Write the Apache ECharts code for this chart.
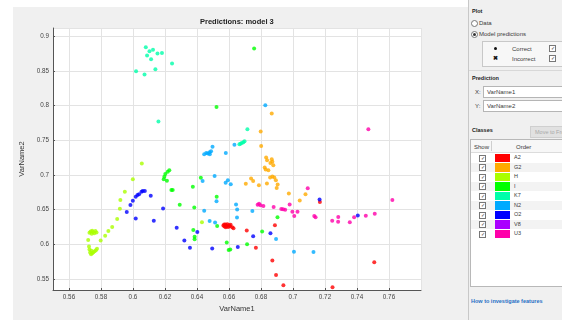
<!DOCTYPE html>
<html>
<head>
<meta charset="utf-8">
<script src="https://cdn.jsdelivr.net/npm/echarts@6/dist/echarts.min.js"></script>
<style>
  html, body { margin: 0; padding: 0; width: 562px; height: 320px; overflow: hidden; background: #fff;
    font-family: "Liberation Sans", Arial, sans-serif; }
  #fig { position: absolute; left: 13px; top: 7px; width: 455px; height: 313px; background: #f0f0f0; }
  #chart { position: absolute; left: 0; top: 0; width: 468px; height: 320px; }
  #panel { position: absolute; left: 468px; top: 0; width: 94px; height: 320px; background: #f0f0f0;
    border-left: 1px solid #c8c8c8; color: #3a3a3a; font-size: 6px; overflow: hidden; }
  .a { position: absolute; white-space: nowrap; line-height: 1; }
  .h { font-weight: bold; font-size: 5.5px; color: #222; }
  .radio { width: 5px; height: 5px; border: 1px solid #777; border-radius: 50%; background: #fff; }
  .radio.on::after { content: ''; position: absolute; left: 1px; top: 1px; width: 3px; height: 3px; border-radius: 50%; background: #333; }
  .chk { width: 5px; height: 5px; border: 1px solid #777; background: #fff; font-size: 5px; line-height: 5px; text-align: center; color: #333; }
  .drop { height: 10px; border: 1px solid #b5b5b5; background: #fff; }
  .row { position: absolute; left: 0; width: 96px; height: 9.5px; }
</style>
</head>
<body>
<div id="fig"></div>
<div id="chart"></div>
<div id="panel"></div>
<script>
// class names and colours (hsv(9) order)
const classNames = ['A2', 'G2', 'H', 'I', 'K7', 'N2', 'O2', 'V8', 'U3'];
const classColors = ['#ff0000', '#ffaa00', '#aaff00', '#00ff00', '#00ffaa', '#00aaff', '#0000ff', '#aa00ff', '#ff00aa'];

const xTicksRange = [0.55, 0.78];
const yTicksRange = [0.534, 0.912];

// VarName1 / VarName2 per class
const ptsA2 = [
  [0.6565, 0.6270], [0.6572, 0.6255], [0.6578, 0.6285], [0.6585, 0.6265], [0.6590, 0.6290],
  [0.6595, 0.6250], [0.6600, 0.6275], [0.6605, 0.6260], [0.6580, 0.6245], [0.6610, 0.6280],
  [0.6620, 0.6245], [0.6628, 0.6232], [0.6570, 0.6285],
  [0.6711, 0.6200], [0.6887, 0.6274], [0.6768, 0.5948], [0.6871, 0.5765], [0.6894, 0.5556],
  [0.6940, 0.5408], [0.7168, 0.6608], [0.7508, 0.5739], [0.7247, 0.5379]
];
const ptsG2 = [
  [0.6867, 0.7886], [0.6798, 0.7628], [0.6801, 0.7419], [0.6832, 0.7252], [0.6838, 0.7213],
  [0.6867, 0.7228], [0.6871, 0.7189], [0.6877, 0.7141], [0.6823, 0.7108], [0.6829, 0.7079],
  [0.6846, 0.7069], [0.6859, 0.7174], [0.6857, 0.6964], [0.6871, 0.6978], [0.6883, 0.6964],
  [0.6893, 0.6925], [0.6904, 0.6863], [0.6898, 0.6810], [0.6705, 0.6872], [0.6738, 0.6950],
  [0.6751, 0.6911], [0.6787, 0.6853], [0.6837, 0.6878], [0.6974, 0.6731], [0.7042, 0.6633],
  [0.7078, 0.6723]
];
const ptsH = [
  [0.6055, 0.7166], [0.5999, 0.6939], [0.5949, 0.6756], [0.5921, 0.6637], [0.5918, 0.6514],
  [0.5901, 0.6363], [0.5870, 0.6248], [0.5846, 0.6190], [0.5826, 0.6122], [0.5798, 0.6053],
  [0.5728, 0.6165], [0.5735, 0.6185], [0.5742, 0.6150], [0.5750, 0.6178], [0.5758, 0.6160],
  [0.5765, 0.6190], [0.5772, 0.6170], [0.5745, 0.6195], [0.5720, 0.6061], [0.5725, 0.5967],
  [0.5728, 0.5925], [0.5732, 0.5880], [0.5738, 0.5855], [0.5745, 0.5870], [0.5752, 0.5885],
  [0.5760, 0.5900], [0.5768, 0.5915], [0.5775, 0.5935], [0.5740, 0.5905], [0.6431, 0.6319]
];
const ptsI = [
  [0.6757, 0.8823], [0.6522, 0.7981], [0.6196, 0.6973], [0.6202, 0.7012], [0.6217, 0.7045],
  [0.6227, 0.7069], [0.6192, 0.6939], [0.6212, 0.6915], [0.6240, 0.6781], [0.6248, 0.6781],
  [0.6292, 0.6569], [0.6374, 0.6829], [0.6383, 0.6532], [0.6424, 0.6958], [0.6523, 0.6684],
  [0.6526, 0.6262], [0.6377, 0.6205], [0.6385, 0.6108], [0.6385, 0.6071], [0.6586, 0.6027],
  [0.6598, 0.5916], [0.6608, 0.5925], [0.6713, 0.5999], [0.6807, 0.6183], [0.6903, 0.6388]
];
const ptsK7 = [
  [0.6019, 0.8496], [0.6072, 0.8448], [0.6080, 0.8841], [0.6088, 0.8722], [0.6103, 0.8784],
  [0.6113, 0.8669], [0.6125, 0.8808], [0.6140, 0.8524], [0.6153, 0.8751], [0.6181, 0.8759],
  [0.6244, 0.8607], [0.6159, 0.7771], [0.6715, 0.7660], [0.6665, 0.7444], [0.6680, 0.7460],
  [0.6690, 0.7470], [0.6697, 0.7487], [0.6672, 0.7450]
];
const ptsN2 = [
  [0.6827, 0.8006], [0.6445, 0.7300], [0.6458, 0.7318], [0.6468, 0.7310], [0.6479, 0.7329],
  [0.6480, 0.7300], [0.6488, 0.7343], [0.6497, 0.7408], [0.6580, 0.7318], [0.6634, 0.7437],
  [0.6510, 0.6983], [0.6435, 0.6911], [0.6579, 0.6889], [0.6593, 0.6925], [0.6611, 0.6867],
  [0.6522, 0.6622], [0.6445, 0.6483], [0.6479, 0.6334], [0.6513, 0.6315], [0.6644, 0.6572],
  [0.6651, 0.6503], [0.6650, 0.6385], [0.6746, 0.6478], [0.6894, 0.6075], [0.7006, 0.5892],
  [0.7128, 0.5888]
];
const ptsO2 = [
  [0.5961, 0.6464], [0.5984, 0.6565], [0.5999, 0.6627], [0.6017, 0.6684], [0.6028, 0.6709],
  [0.6038, 0.6723], [0.6053, 0.6756], [0.6061, 0.6767], [0.6074, 0.6767], [0.6111, 0.6699],
  [0.6017, 0.6373], [0.6130, 0.6339], [0.6188, 0.6517], [0.6273, 0.6238], [0.6321, 0.6054],
  [0.6356, 0.5950], [0.6402, 0.6176], [0.6495, 0.5938], [0.6655, 0.5960], [0.6751, 0.6114],
  [0.6859, 0.6157], [0.7166, 0.6647], [0.7405, 0.6416]
];
const ptsV8 = [];
const ptsU3 = [
  [0.6779, 0.6569], [0.6788, 0.6584], [0.6797, 0.6561], [0.6815, 0.6553], [0.6879, 0.6536],
  [0.6927, 0.6507], [0.6938, 0.6504], [0.6951, 0.6499], [0.6979, 0.6572], [0.6996, 0.6468],
  [0.7028, 0.6468], [0.7008, 0.6409], [0.7092, 0.6807], [0.7133, 0.6406], [0.7141, 0.6388],
  [0.7245, 0.6339], [0.7283, 0.6392], [0.7282, 0.6324], [0.7355, 0.6316], [0.7382, 0.6388],
  [0.7455, 0.6411], [0.7511, 0.6439], [0.7621, 0.6637], [0.7471, 0.7660]
];
const classPoints = [ptsA2, ptsG2, ptsH, ptsI, ptsK7, ptsN2, ptsO2, ptsV8, ptsU3];

const font = '"Liberation Sans", Arial, sans-serif';
const tickFmt = v => String(+v.toFixed(2));

function buildChart() {
  const chart = echarts.init(document.getElementById('chart'));
  chart.setOption({
    animation: false,
    textStyle: { fontFamily: font },
    title: {
      text: 'Predictions: model 3',
      left: 200, top: 18, padding: 0,
      textStyle: { fontSize: 7.5, fontWeight: 'bold', color: '#222', fontFamily: font }
    },
    grid: { left: 53, right: 47, top: 28, bottom: 30, show: true, backgroundColor: '#fff', borderWidth: 0 },
    xAxis: {
      type: 'value',
      min: xTicksRange[0], max: xTicksRange[1], splitNumber: 11,
      name: 'VarName1', nameLocation: 'middle', nameGap: 14,
      nameTextStyle: { fontSize: 7.5, color: '#333' },
      axisLine: { lineStyle: { color: '#555', width: 1 } },
      axisTick: { show: true, inside: true, length: 2, lineStyle: { color: '#555' } },
      axisLabel: { fontSize: 6.3, color: '#444', margin: 4, showMinLabel: false, showMaxLabel: false, formatter: tickFmt },
      splitLine: { show: true, lineStyle: { color: '#e3e3e3' } }
    },
    yAxis: {
      type: 'value',
      min: yTicksRange[0], max: yTicksRange[1], splitNumber: 7,
      name: 'VarName2', nameLocation: 'middle', nameGap: 21,
      nameTextStyle: { fontSize: 7.5, color: '#333' },
      axisLine: { show: true, lineStyle: { color: '#555', width: 1 } },
      axisTick: { show: true, inside: true, length: 2, lineStyle: { color: '#555' } },
      axisLabel: { fontSize: 6.3, color: '#444', margin: 4, showMinLabel: false, showMaxLabel: false, formatter: tickFmt },
      splitLine: { show: true, lineStyle: { color: '#e3e3e3' } }
    },
    series: classNames.map((name, i) => ({
      name,
      type: 'scatter',
      data: classPoints[i],
      symbol: 'circle',
      symbolSize: 4,
      itemStyle: { color: classColors[i] },
      emphasis: { disabled: true }
    }))
  });
}

function el(parent, cls, css, html) {
  const d = document.createElement('div');
  d.className = 'a ' + (cls || '');
  Object.assign(d.style, css);
  if (html) d.innerHTML = html;
  parent.appendChild(d);
  return d;
}

function buildPanel() {
  const p = document.getElementById('panel');
  el(p, 'h', { left: '3px', top: '9px' }, 'Plot');
  el(p, 'radio', { left: '2px', top: '20px' });
  el(p, '', { left: '10px', top: '20px' }, 'Data');
  el(p, 'radio on', { left: '2px', top: '31px' });
  el(p, '', { left: '10px', top: '31px' }, 'Model predictions');

  const box = el(p, '', { left: '13px', top: '41px', width: '90px', height: '24px', border: '1px solid #c8c8c8', background: '#f7f7f7' });
  el(box, '', { left: '11px', top: '5px', width: '3px', height: '3px', borderRadius: '50%', background: '#111' });
  el(box, '', { left: '29px', top: '4px' }, 'Correct');
  el(box, 'chk', { left: '66px', top: '3px' }, '&#10003;');
  el(box, '', { left: '10px', top: '13px', fontWeight: 'bold', color: '#111' }, '&#10006;');
  el(box, '', { left: '29px', top: '14px' }, 'Incorrect');
  el(box, 'chk', { left: '66px', top: '13px' }, '&#10003;');

  el(p, '', { left: '0', top: '70px', width: '94px', height: '1px', background: '#d8d8d8' });
  el(p, 'h', { left: '3px', top: '76px' }, 'Prediction');
  el(p, '', { left: '6px', top: '89px' }, 'X:');
  el(p, 'drop', { left: '14px', top: '86px', width: '82px' }, '<span class="a" style="left:3px;top:2px">VarName1</span>');
  el(p, '', { left: '6px', top: '103px' }, 'Y:');
  el(p, 'drop', { left: '14px', top: '100px', width: '82px' }, '<span class="a" style="left:3px;top:2px">VarName2</span>');

  el(p, 'h', { left: '3px', top: '128px' }, 'Classes');
  el(p, '', { left: '61px', top: '126px', width: '40px', height: '10px', background: '#e1e1e1', border: '1px solid #cfcfcf', color: '#a8a8a8', fontSize: '5.5px' },
    '<span class="a" style="left:4px;top:2.5px">Move to Front</span>');

  const tbl = el(p, '', { left: '1px', top: '139px', width: '96px', height: '146px', border: '1px solid #b8b8b8', background: '#fff' });
  el(tbl, '', { left: '0', top: '0', width: '96px', height: '12px', background: '#f7f7f7', borderBottom: '1px solid #dcdcdc' });
  el(tbl, '', { left: '3px', top: '4px' }, 'Show');
  el(tbl, '', { left: '20px', top: '1px', width: '1px', height: '10px', background: '#cfcfcf' });
  el(tbl, '', { left: '45px', top: '4px' }, 'Order');
  classNames.forEach((name, i) => {
    const r = el(tbl, 'row', { top: (13 + i * 9.5) + 'px', background: i % 2 ? '#f3f3f3' : '#fff' });
    el(r, 'chk', { left: '8px', top: '1.5px' }, '&#10003;');
    el(r, '', { left: '24px', top: '0.5px', width: '15px', height: '8.5px', background: classColors[i] });
    el(r, '', { left: '43px', top: '2px', fontSize: '5.5px' }, name);
  });

  el(p, '', { left: '2px', top: '299px', color: '#1f6fc5', fontWeight: 'bold', fontSize: '5.5px' }, 'How to investigate features');
}

buildChart();
buildPanel();
</script>
</body>
</html>
